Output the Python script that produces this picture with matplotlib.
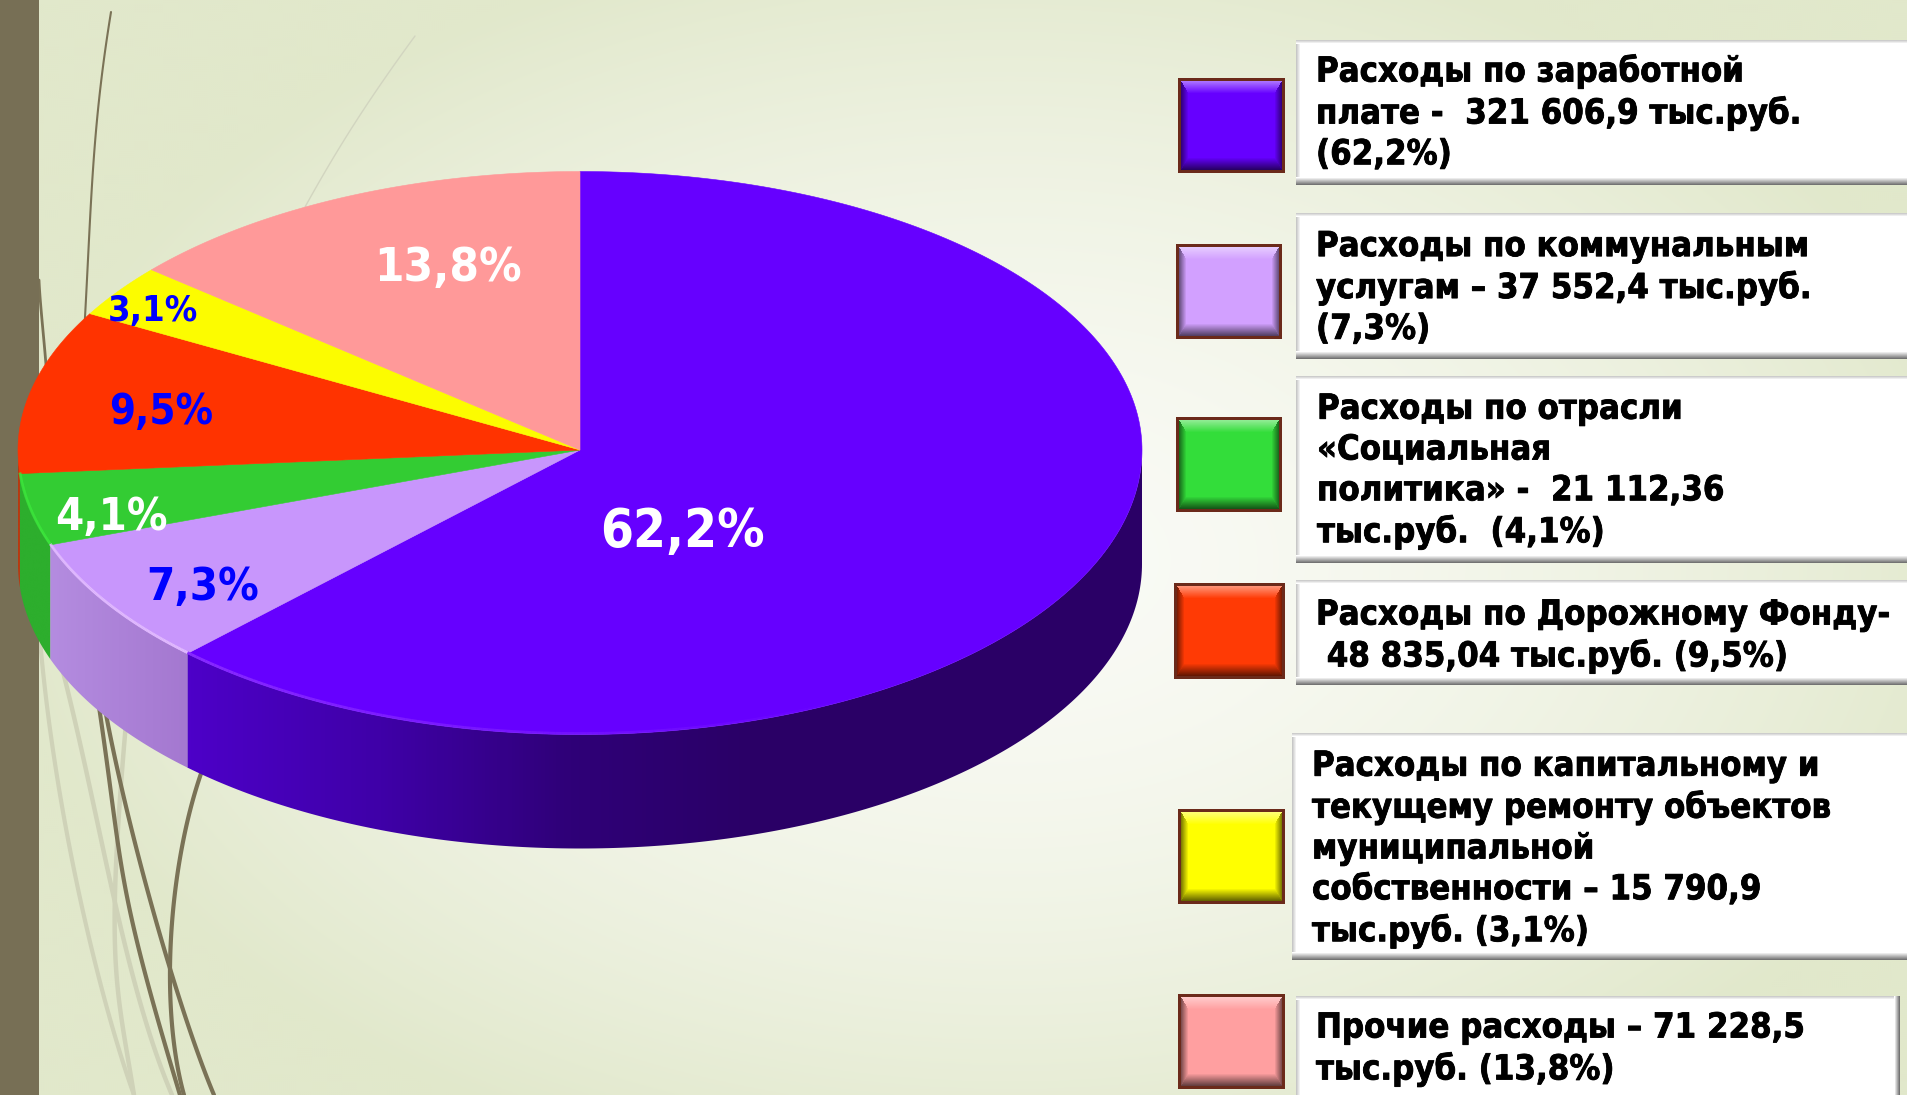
import numpy as np
import matplotlib
matplotlib.use("Agg")
import matplotlib.pyplot as plt
import matplotlib.patheffects as pe
from matplotlib.patches import Polygon, Rectangle
from matplotlib.collections import LineCollection
from matplotlib.colors import to_rgb, to_rgba, LinearSegmentedColormap

# ---------- data ----------
values = [321606.9, 37552.4, 21112.36, 48835.04, 15790.9, 71228.5]
pct_labels = ["62,2%", "7,3%", "4,1%", "9,5%", "3,1%", "13,8%"]
top_colors = ["#6600FF", "#C896FC", "#33CC33", "#FF3300", "#FCFC00", "#FF9999"]
wall_colors = [["#4D00C8", "#3F00A8", "#2F0078", "#2A0066", "#2A0066", "#2A0066"],
               ["#B48CE0", "#A478D0"], ["#2DAE2D", "#2DAE2D"], ["#B83A10", "#B83A10"],
               ["#B0B000", "#B0B000"], ["#B06A6A", "#B06A6A"]]
swatch_colors = ["#6600FF", "#D2A0FF", "#33DD3A", "#FF3A05", "#FFFF00", "#FF9FA0"]
legend_texts = [
    "Расходы по заработной\nплате -  321 606,9 тыс.руб.\n(62,2%)",
    "Расходы по коммунальным\nуслугам – 37 552,4 тыс.руб.\n(7,3%)",
    "Расходы по отрасли\n«Социальная\nполитика» -  21 112,36\nтыс.руб.  (4,1%)",
    "Расходы по Дорожному Фонду-\n 48 835,04 тыс.руб. (9,5%)",
    "Расходы по капитальному и\nтекущему ремонту объектов\nмуниципальной\nсобственности – 15 790,9\nтыс.руб. (3,1%)",
    "Прочие расходы – 71 228,5\nтыс.руб. (13,8%)",
]

# ---------- layout ----------
W, H = 1907, 1095
CX, CY, RX, RY_TOP, RY_BOT, DEPTH = 580, 450, 562, 278.5, 284.5, 114
label_pos = [(682, 532), (203, 587), (111, 517), (161, 412), (153, 311), (448, 268)]
label_sizes = [38, 32.5, 32.5, 30, 26, 34]
label_cols = ["white", "#0000FF", "white", "#0000FF", "#0000FF", "white"]
boxes = [(1296, 40, 185), (1296, 213, 359), (1296, 376, 563),
         (1296, 580, 685), (1292, 733, 960), (1296, 996, 1110)]
box_right = [1915, 1915, 1915, 1915, 1915, 1900]
text_x = [1316, 1316, 1317, 1316, 1312, 1316]
text_y = [113, 288, 471, 636, 849, 1049]
swatches = [(1178, 78, 1285, 173), (1176, 244, 1282, 339), (1176, 417, 1282, 512),
            (1174, 583, 1285, 679), (1178, 809, 1285, 904), (1178, 994, 1285, 1089)]

fig = plt.figure(figsize=(W / 100, H / 100), dpi=100)
ax = fig.add_axes([0, 0, 1, 1])
ax.axis("off")


def reset():
    ax.set_xlim(0, W)
    ax.set_ylim(H, 0)


def rim_xy(deg):
    th = np.radians(deg)
    s = np.sin(th)
    return CX + RX * np.cos(th), CY - np.where(s > 0, RY_TOP, RY_BOT) * s


# ---------- background ----------
yy, xx = np.mgrid[0:H:2, 0:W:2]
d = np.sqrt(((xx - 1010) / 1010) ** 2 + ((yy - 560) / 640) ** 2)
t = np.clip(d, 0, 1)[..., None] ** 1.6
c0, c1 = np.array(to_rgb("#FAFBF6")), np.array(to_rgb("#E1E8CB"))
ax.imshow(c0 * (1 - t) + c1 * t, extent=(0, W, H, 0), aspect="auto", zorder=0)
reset()


def smooth(pts, color, lw):
    p = np.array(pts, float)
    s = np.linspace(0, 1, len(p))
    u = np.linspace(0, 1, 80)
    coef = np.polyfit(s, p, 3)
    xy = np.column_stack([np.polyval(coef[:, 0], u), np.polyval(coef[:, 1], u)])
    ax.plot(xy[:, 0], xy[:, 1], color=color, lw=lw, zorder=1, solid_capstyle="round")


GD, GL = "#7A7256", "#CFD2B8"
smooth([(40, 640), (65, 823), (100, 982), (134, 1095)], GL, 3)
smooth([(60, 660), (96, 816), (130, 965), (172, 1095)], GL, 3.2)
smooth([(128, 700), (115, 894), (119, 1000), (134, 1095)], GL, 3.2)
smooth([(95, 680), (115, 823), (134, 929), (180, 1095)], GD, 3)
smooth([(100, 680), (130, 823), (172, 975), (214, 1095)], GD, 3)
smooth([(210, 750), (180, 858), (170, 982), (184, 1095)], GD, 3)
smooth([(111, 12), (97, 120), (90, 220), (84, 335)], GD, 1.5)
smooth([(415, 36), (370, 100), (335, 155), (305, 207)], "#D2D5C0", 1)
smooth([(39, 280), (42, 320), (46, 365), (47, 395)], GD, 2)
ax.add_patch(Rectangle((0, 0), 39, H, fc="#776F55", ec="none", zorder=2))

# ---------- pie ----------
vals = np.array(values)
fr = vals / vals.sum()
ends = 90 - np.cumsum(fr) * 360
starts = np.r_[90, ends[:-1]]

for i in range(len(vals)):
    a1, a2 = ends[i] % 360, starts[i] % 360
    if a2 < a1 or a2 == 0:
        a2 = 360
    lo, hi = max(a1, 180), min(a2, 360)
    if hi <= lo:
        continue
    x, y = rim_xy(np.linspace(lo, hi, 200))
    outline = np.r_[np.c_[x, y], np.c_[x[::-1], y[::-1] + DEPTH]]
    clip = Polygon(outline, closed=True, transform=ax.transData)
    cmap = LinearSegmentedColormap.from_list("w", wall_colors[i])
    im = ax.imshow(np.linspace(0, 1, 256)[None, :], cmap=cmap, aspect="auto", zorder=3,
                   extent=(x.min(), x.max(), y.max() + DEPTH + 1, y.min() - 1))
    im.set_clip_path(clip)
reset()

for i in range(len(vals)):
    x, y = rim_xy(np.linspace(ends[i], starts[i], 300))
    ax.add_patch(Polygon(np.r_[[(CX, CY)], np.c_[x, y]], closed=True, fc=top_colors[i],
                         ec=top_colors[i], lw=0.4, zorder=4))

# rim highlights on the front edge (the purple one fades out)
rim = ["#8A2CFF", "#E4BEFF", "#3DEB3D"]
for i in range(3):
    lo = ends[i] % 360
    hi = 300 if i == 0 else starts[i] % 360
    px, py = rim_xy(np.linspace(lo, hi, 120))
    py = py - 1
    segs = np.stack([np.c_[px[:-1], py[:-1]], np.c_[px[1:], py[1:]]], axis=1)
    a = np.linspace(0.95, 0, len(segs)) if i == 0 else np.full(len(segs), 0.9)
    cols = [to_rgba(rim[i], v) for v in a]
    ax.add_collection(LineCollection(segs, colors=cols, linewidths=2, zorder=5))

font = dict(family="DejaVu Sans", stretch="condensed", fontweight="bold")
for (lx, ly), s, txt, col in zip(label_pos, label_sizes, pct_labels, label_cols):
    ax.text(lx, ly, txt, color=col, fontsize=s, ha="center", va="center", zorder=6, **font)

# ---------- legend ----------
for (x0, y0, x1, y1), col in zip(swatches, swatch_colors):
    ax.add_patch(Rectangle((x0, y0), x1 - x0, y1 - y0, fc="#6B2A1A", ec="none", zorder=5))
    w, h = x1 - x0 - 6, y1 - y0 - 6
    py, px = np.mgrid[0:h, 0:w]
    base = np.array(to_rgb(col))
    img = np.ones((h, w, 3)) * base
    dt, db, ds = py / 12, (h - 1 - py) / 12, np.minimum(px, w - 1 - px) / 7
    top = (dt < 1) & (dt <= ds)
    bot = (db < 1) & (db <= ds)
    side = (ds < 1) & ~top & ~bot
    img[top] = (base + (1 - base) * (0.45 * (1 - dt[top]))[:, None])
    img[bot] = base * (1 - 0.6 * (1 - db[bot]))[:, None]
    img[side] = base * (1 - 0.5 * (1 - ds[side]))[:, None]
    ax.imshow(img, extent=(x0 + 3, x1 - 3, y1 - 3, y0 + 3), aspect="auto", zorder=6)

for (x0, y0, y1), xr, tx, ty, txt in zip(boxes, box_right, text_x, text_y, legend_texts):
    ax.add_patch(Rectangle((x0, y0), xr - x0, y1 - y0, fc="white", ec="none", zorder=5))
    ax.imshow(np.linspace(0.78, 1, 5)[None, :], cmap="gray", vmin=0, vmax=1, aspect="auto",
              extent=(x0, x0 + 5, y1, y0), zorder=6)
    ax.imshow(np.linspace(0.8, 1, 4)[:, None], cmap="gray", vmin=0, vmax=1, aspect="auto",
              extent=(x0, xr, y0 + 4, y0), zorder=6)
    ax.imshow(np.linspace(1, 0.45, 8)[:, None], cmap="gray", vmin=0, vmax=1, aspect="auto",
              extent=(x0, xr, y1, y1 - 8), zorder=6)
    if xr < W:
        ax.imshow(np.linspace(1, 0.45, 6)[None, :], cmap="gray", vmin=0, vmax=1, aspect="auto",
                  extent=(xr - 6, xr, y1, y0), zorder=6)
    tobj = ax.text(tx, ty, txt, color="black", fontsize=24.8, ha="left", va="center", linespacing=1.3,
                   zorder=7, **font)
    tobj.set_path_effects([pe.withStroke(linewidth=0.6, foreground="black")])
reset()

fig.savefig("out.png", dpi=100)
